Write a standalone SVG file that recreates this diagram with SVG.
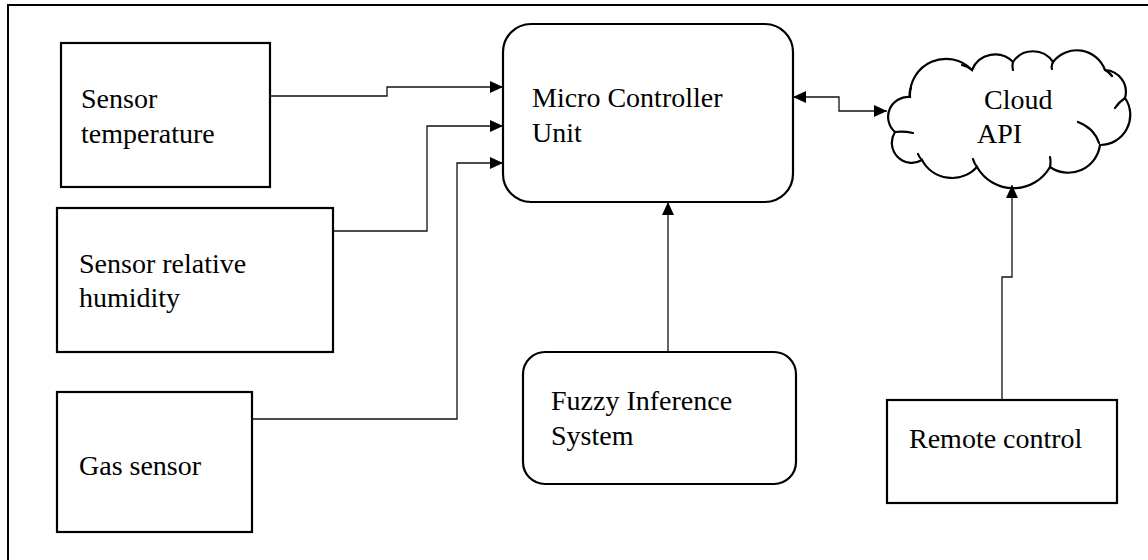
<svg xmlns="http://www.w3.org/2000/svg" width="1148" height="560" viewBox="0 0 1148 560">
<defs>
<style>
.box{fill:#fff;stroke:#000;stroke-width:2.2}
.frame{fill:none;stroke:#000;stroke-width:2}
.conn{fill:none;stroke:#111;stroke-width:1.3}
.lbl{font-family:"Liberation Serif","Times New Roman",serif;font-size:28px;fill:#000}
.hook{fill:none;stroke:#000;stroke-width:2.2;stroke-linecap:round}
</style>
<marker id="ah" viewBox="0 0 13 12" refX="13" refY="6" markerWidth="13" markerHeight="12" markerUnits="userSpaceOnUse" orient="auto-start-reverse">
<path d="M0,0 L13,6 L0,12 z" fill="#000"/>
</marker>
</defs>
<rect width="1148" height="560" fill="#fff"/>
<path class="frame" d="M8,560 V5 H1148"/>

<g id="sensor-temperature">
<rect class="box" x="61" y="43" width="209" height="144"/>
<text class="lbl" x="81" y="108">Sensor</text>
<text class="lbl" x="81" y="143">temperature</text>
</g>

<g id="sensor-humidity">
<rect class="box" x="57" y="208" width="276" height="144"/>
<text class="lbl" x="79" y="273">Sensor relative</text>
<text class="lbl" x="79" y="307">humidity</text>
</g>

<g id="gas-sensor">
<rect class="box" x="57" y="392" width="195" height="140"/>
<text class="lbl" x="79" y="475">Gas sensor</text>
</g>

<g id="mcu">
<rect class="box" x="503" y="24" width="290" height="178" rx="28" ry="28"/>
<text class="lbl" x="532" y="107">Micro Controller</text>
<text class="lbl" x="532" y="142">Unit</text>
</g>

<g id="fis">
<rect class="box" x="523" y="352" width="273" height="132" rx="22" ry="22"/>
<text class="lbl" x="551" y="410">Fuzzy Inference</text>
<text class="lbl" x="551" y="445">System</text>
</g>

<g id="cloud-api">
<path class="box" d="M910,97 A36,36 0 0 1 972,70 A25,25 0 0 1 1013,62 A24,24 0 0 1 1053,62 A30,30 0 0 1 1105,70 A22,22 0 0 1 1125,98 A30,30 0 0 1 1100,145 A32,32 0 0 1 1050,167 A42,42 0 0 1 977,167 A34,34 0 0 1 922,160 A20,20 0 0 1 895,132 A20,20 0 0 1 910,97 Z"/>
<path class="hook" d="M910,97 Q909,92 911,88 M972,70 Q967,66 962,65 M1013,62 Q1012,66 1013,70 M1053,62 Q1051,66 1052,69 M1105,70 Q1109,72 1112,76 M1125,98 Q1119,102 1115,108 M1078,122 Q1094,128 1099,143 M1050,167 Q1051,162 1050,157 M977,167 Q974,163 973,159 M922,160 Q919,157 918,154 M895,132 Q904,131 913,133"/>
<text class="lbl" x="984" y="109">Cloud</text>
<text class="lbl" x="977" y="143">API</text>
</g>

<g id="remote-control">
<rect class="box" x="887" y="400" width="230" height="103"/>
<text class="lbl" x="909" y="448">Remote control</text>
</g>

<g id="connectors">
<path class="conn" d="M270,96 H387 V87 H503" marker-end="url(#ah)"/>
<path class="conn" d="M333,231 H427 V126 H503" marker-end="url(#ah)"/>
<path class="conn" d="M252,419 H457 V163 H503" marker-end="url(#ah)"/>
<path class="conn" d="M668,352 V202" marker-end="url(#ah)"/>
<path class="conn" d="M793,97 H839 V111 H887" marker-start="url(#ah)" marker-end="url(#ah)"/>
<path class="conn" d="M1002,400 V277 H1012 V185" marker-end="url(#ah)"/>
</g>
</svg>
